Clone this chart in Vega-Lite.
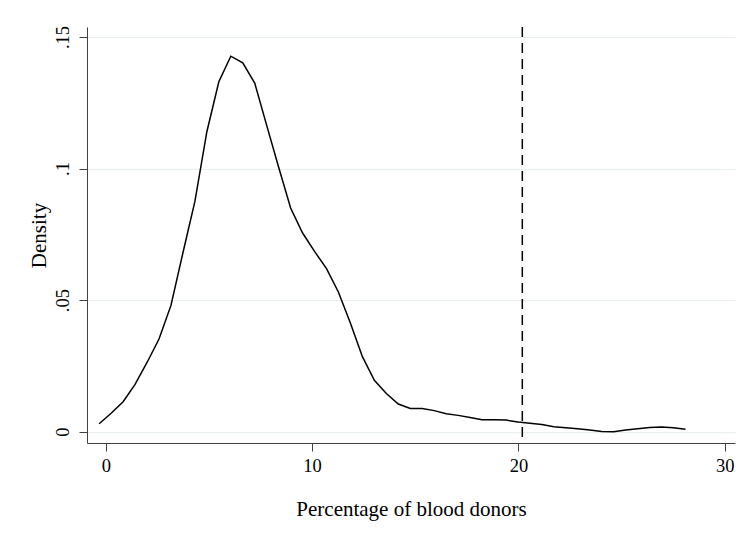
{
  "$schema": "https://vega.github.io/schema/vega-lite/v6.json",
  "width": 648,
  "height": 416,
  "autosize": {"type": "none"},
  "padding": {"left": 87, "top": 27, "right": 9, "bottom": 94},
  "background": "white",
  "config": {
    "view": {"stroke": null},
    "font": "Liberation Serif",
    "axis": {
      "labelFont": "Liberation Serif",
      "titleFont": "Liberation Serif",
      "labelFontSize": 18.5,
      "titleFontSize": 21,
      "titleFontWeight": "normal",
      "labelColor": "black",
      "titleColor": "black",
      "domainColor": "#404040",
      "tickColor": "#404040",
      "tickSize": 8,
      "gridColor": "#e6eef0",
      "gridWidth": 1.2
    }
  },
  "datasets": {
    "density": [
      {"x": -0.32, "y": 0.0030},
      {"x": 0.26, "y": 0.0070},
      {"x": 0.84, "y": 0.0114},
      {"x": 1.42, "y": 0.0180},
      {"x": 2.00, "y": 0.0263},
      {"x": 2.58, "y": 0.0352},
      {"x": 3.16, "y": 0.0480},
      {"x": 3.74, "y": 0.0680},
      {"x": 4.32, "y": 0.0875},
      {"x": 4.90, "y": 0.1140},
      {"x": 5.48, "y": 0.1330},
      {"x": 6.06, "y": 0.1427},
      {"x": 6.64, "y": 0.1402},
      {"x": 7.22, "y": 0.1325},
      {"x": 7.80, "y": 0.1164},
      {"x": 8.38, "y": 0.1005},
      {"x": 8.96, "y": 0.0850},
      {"x": 9.54, "y": 0.0755},
      {"x": 10.12, "y": 0.0685},
      {"x": 10.70, "y": 0.0620},
      {"x": 11.28, "y": 0.0530},
      {"x": 11.86, "y": 0.0412},
      {"x": 12.44, "y": 0.0285},
      {"x": 13.02, "y": 0.0195},
      {"x": 13.60, "y": 0.0145},
      {"x": 14.18, "y": 0.0105},
      {"x": 14.76, "y": 0.0088},
      {"x": 15.34, "y": 0.0088},
      {"x": 15.92, "y": 0.0080},
      {"x": 16.50, "y": 0.0068},
      {"x": 17.08, "y": 0.0062},
      {"x": 17.66, "y": 0.0054},
      {"x": 18.24, "y": 0.0045},
      {"x": 18.82, "y": 0.0045},
      {"x": 19.40, "y": 0.0044},
      {"x": 19.98, "y": 0.0037},
      {"x": 20.56, "y": 0.0032},
      {"x": 21.14, "y": 0.0027},
      {"x": 21.72, "y": 0.0019},
      {"x": 22.30, "y": 0.0015},
      {"x": 22.88, "y": 0.0011},
      {"x": 23.46, "y": 0.0006},
      {"x": 24.04, "y": 0.0001},
      {"x": 24.62, "y": 0.0000},
      {"x": 25.20, "y": 0.0006},
      {"x": 25.78, "y": 0.0011},
      {"x": 26.36, "y": 0.0016},
      {"x": 26.94, "y": 0.0018},
      {"x": 27.52, "y": 0.0015},
      {"x": 28.10, "y": 0.0009}
    ],
    "cutoff": [{"x": 20.19}]
  },
  "layer": [
    {
      "data": {"name": "density"},
      "mark": {"type": "line", "color": "black", "strokeWidth": 1.5, "clip": true},
      "encoding": {
        "x": {
          "field": "x",
          "type": "quantitative",
          "scale": {"domain": [-0.91, 30.5], "nice": false, "zero": false},
          "axis": {
            "title": "Percentage of blood donors",
            "values": [0, 10, 20, 30],
            "grid": false,
            "labelPadding": 5,
            "titlePadding": 24
          }
        },
        "y": {
          "field": "y",
          "type": "quantitative",
          "scale": {"domain": [-0.0043, 0.1538], "nice": false, "zero": false},
          "axis": {
            "title": "Density",
            "values": [0, 0.05, 0.1, 0.15],
            "labelExpr": "datum.value == 0 ? '0' : substring(format(datum.value, '.2~f'), 1)",
            "labelAngle": -90,
            "labelAlign": "center",
            "labelBaseline": "bottom",
            "labelPadding": 7,
            "titlePadding": 4,
            "grid": true
          }
        }
      }
    },
    {
      "data": {"name": "cutoff"},
      "mark": {"type": "rule", "color": "black", "strokeWidth": 1.5, "strokeDash": [10, 6]},
      "encoding": {
        "x": {"field": "x", "type": "quantitative"}
      }
    }
  ]
}
